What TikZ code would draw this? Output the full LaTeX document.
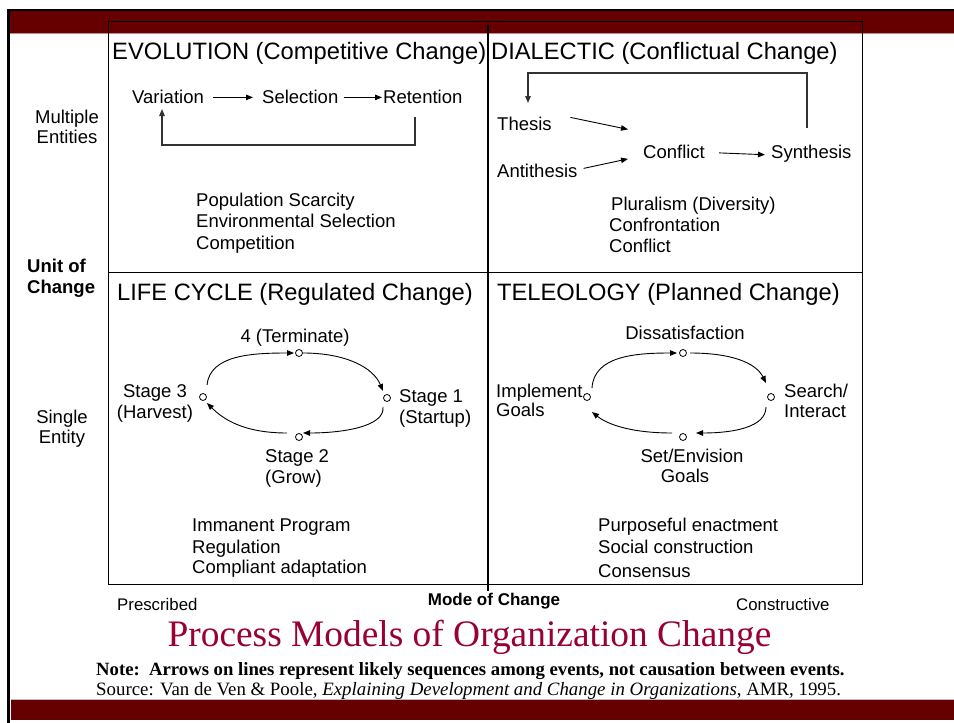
\documentclass[tikz,border=0pt]{standalone}
\usepackage{fontspec}
\setmainfont{Liberation Sans}
\newfontfamily\tnr{Liberation Serif}
\usetikzlibrary{arrows.meta}
\definecolor{band}{HTML}{660000}
\definecolor{titlered}{HTML}{990033}
\begin{document}
\begin{tikzpicture}[x=1pt,y=-1pt,
  lbl/.style={inner sep=0pt, font=\fontsize{18.5}{21}\selectfont, anchor=base west},
  lblc/.style={inner sep=0pt, font=\fontsize{18.5}{21}\selectfont, anchor=base},
  lblb/.style={inner sep=0pt, font=\fontsize{18.5}{21}\selectfont\bfseries, anchor=base west},
  hd/.style={inner sep=0pt, font=\fontsize{23.7}{26}\selectfont, anchor=base west},
  axis/.style={inner sep=0pt, font=\fontsize{16.8}{19}\selectfont, anchor=base west},
  arr/.style={-{Triangle[length=7pt,width=5.5pt]}, line width=0.9pt},
  loop/.style={-{Triangle[length=7pt,width=5.5pt]}, line width=1.3pt, draw=black!80},
  dot/.style={circle, draw, fill=white, inner sep=0pt, minimum size=7pt, line width=0.8pt},
]
\useasboundingbox (0,0) rectangle (954,723);
\fill[white] (0,0) rectangle (954,723);
% frame bands
\fill[band] (9,11) rectangle (954,33);
\draw[line width=0.8pt, draw=band!45] (9,33.6) -- (954,33.6);
\fill[band] (11,700) rectangle (954,720);
\draw[line width=0.8pt, draw=black!25] (11,699.2) -- (954,699.2);
\draw[line width=2pt] (7,10) -- (954,10);
\draw[line width=2.5pt] (8.5,9) -- (8.5,723);
% grid
\draw[line width=1pt] (108,21) rectangle (862,584);
\draw[line width=1pt] (108,272) -- (862,272);
\draw[line width=1.2pt] (488,25) -- (488,591);
% headings
\node[hd] (evoT) at (112,59) {EVOLUTION (Competitive Change)};
\node[hd] (diaT) at (491,59) {DIALECTIC (Conflictual Change)};
\node[hd] (lifT) at (117,300) {LIFE CYCLE (Regulated Change)};
\node[hd] (telT) at (497,300) {TELEOLOGY (Planned Change)};
% evolution
\node[lbl] (var) at (132,103) {Variation};
\node[lbl] (sel) at (262,103) {Selection};
\node[lbl] (ret) at (383,103) {Retention};
\draw[arr] ([shift={(9,1)}]var.east) -- ([shift={(-9,1)}]sel.west);
\draw[arr] ([shift={(5,1)}]sel.east) -- ([shift={(-1,1)}]ret.west);
\coordinate (retB) at (415,117);
\coordinate (varB) at (162,109);
\draw[loop] (retB) -- ++(0,28) -| (varB);
\node[lbl] (ev1) at (196,206) {Population Scarcity};
\node[lbl] (ev2) at (196,227.5) {Environmental Selection};
\node[lbl] (ev3) at (196,249) {Competition};
% dialectic
\node[lbl] (the) at (497,130) {Thesis};
\node[lbl] (ant) at (497,177) {Antithesis};
\node[lbl] (con) at (643,158) {Conflict};
\node[lbl] (syn) at (771,158) {Synthesis};
\draw[arr] ([shift={(18.5,-6)}]the.east) -- ([shift={(-15,-22)}]con.west);
\draw[arr] ([shift={(6,-2)}]ant.east) -- ([shift={(-15,7.5)}]con.west);
\draw[arr] ([shift={(14,1.5)}]con.east) -- ([shift={(-6,1.5)}]syn.west);
\coordinate (synT) at (807,128);
\coordinate (theT) at (528,103);
\draw[loop] (synT) -- ++(0,-55) -| (theT);
\node[lbl] (di1) at (611,210) {Pluralism (Diversity)};
\node[lbl] (di2) at (609,231) {Confrontation};
\node[lbl] (di3) at (609,252) {Conflict};
% left axis
\node[lblc] (mul1) at (67,123) {Multiple};
\node[lblc] (mul2) at (67,143) {Entities};
\node[lblb] (uoc1) at (27,272) {Unit of};
\node[lblb] (uoc2) at (27,293) {Change};
\node[lblc] (sin1) at (62,423) {Single};
\node[lblc] (sin2) at (62,443) {Entity};
% life cycle
\node[dot] (lc4) at (299,353) {};
\node[dot] (lc1) at (387,398) {};
\node[dot] (lc2) at (299,437) {};
\node[dot] (lc3) at (203,397) {};
\node[lblc] (lcT) at (295,342) {4 (Terminate)};
\node[lblc] (lcS3a) at (155,397) {Stage 3};
\node[lblc] (lcS3b) at (155,418) {(Harvest)};
\node[lbl] (lcS1a) at (399,402) {Stage 1};
\node[lbl] (lcS1b) at (399,423) {(Startup)};
\node[lbl] (lcS2a) at (265,462) {Stage 2};
\node[lbl] (lcS2b) at (265,483) {(Grow)};
\draw[arr] ([shift={(4,-12)}]lc3.center) .. controls +(3,-30) and +(-42,0) .. ([shift={(-5,0)}]lc4.center);
\draw[arr] ([shift={(4,0)}]lc4.center) .. controls +(42,0) and +(-10,-24) .. ([shift={(-4,-7)}]lc1.center);
\draw[arr] ([shift={(-4,9)}]lc1.center) .. controls +(2,20) and +(38,0) .. ([shift={(4,-4)}]lc2.center);
\draw[arr] ([shift={(-12,-4)}]lc2.center) .. controls +(-45,0) and +(15,15) .. ([shift={(4,6)}]lc3.center);
\node[lbl] (lf1) at (192,531) {Immanent Program};
\node[lbl] (lf2) at (192,553) {Regulation};
\node[lbl] (lf3) at (192,573) {Compliant adaptation};
% teleology
\node[dot] (te1) at (683,353) {};
\node[dot] (te2) at (771,397) {};
\node[dot] (te3) at (683,437) {};
\node[dot] (te4) at (587,397) {};
\node[lblc] (teD) at (685,339) {Dissatisfaction};
\node[lbl] (teIa) at (496,397) {Implement};
\node[lbl] (teIb) at (496,416) {Goals};
\node[lbl] (teSa) at (784,397) {Search/};
\node[lbl] (teSb) at (784,417) {Interact};
\node[lblc] (teGa) at (692,462) {Set/Envision};
\node[lblc] (teGb) at (685,482) {Goals};
\draw[arr] ([shift={(5,-9)}]te4.center) .. controls +(2,-32) and +(-42,0) .. ([shift={(-6,0)}]te1.center);
\draw[arr] ([shift={(7,0)}]te1.center) .. controls +(42,0) and +(-10,-20) .. ([shift={(-5,-14)}]te2.center);
\draw[arr] ([shift={(-5,10)}]te2.center) .. controls +(0,20) and +(38,0) .. ([shift={(13,-4)}]te3.center);
\draw[arr] ([shift={(-11,-4)}]te3.center) .. controls +(-42,0) and +(15,12) .. ([shift={(5,15)}]te4.center);
\node[lbl] (tl1) at (598,531) {Purposeful enactment};
\node[lbl] (tl2) at (598,553) {Social construction};
\node[lbl] (tl3) at (598,577) {Consensus};
% bottom axis
\node[axis] (pre) at (117,610) {Prescribed};
\node[axis, anchor=base, font=\fontsize{17}{19}\selectfont\bfseries] (moc) at (494,605) {Mode of Change};
\node[axis] (cons) at (736,610) {Constructive};
% title and notes
\node[inner sep=0pt, anchor=base, text=titlered, font=\tnr\fontsize{37.4}{40}\selectfont] (title) at (469.5,646) {Process Models of Organization Change};
\node[inner sep=0pt, anchor=base west, font=\tnr\fontsize{18.7}{21}\selectfont\bfseries] (note) at (96,675) {Note:\ \ Arrows on lines represent likely sequences among events, not causation between events.};
\node[inner sep=0pt, anchor=base west, font=\tnr\fontsize{18.85}{21}\selectfont] (src) at (96,695) {Source: Van de Ven \& Poole, \textit{Explaining Development and Change in Organizations}, AMR, 1995.};
\end{tikzpicture}
\end{document}
